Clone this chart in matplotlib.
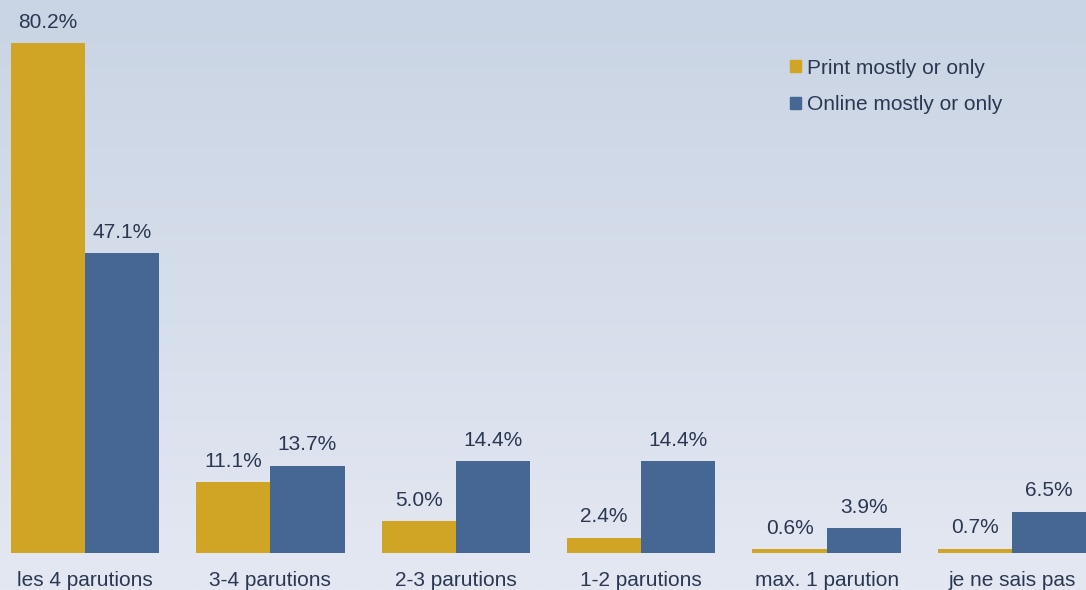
import numpy as np
import matplotlib.pyplot as plt
from matplotlib.patches import Patch
from matplotlib.colors import LinearSegmentedColormap

plt.rcParams['font.family'] = ['Liberation Sans', 'DejaVu Sans']

categories = ["les 4 parutions", "3-4 parutions", "2-3 parutions",
              "1-2 parutions", "max. 1 parution", "je ne sais pas"]
print_vals = [80.2, 11.1, 5.0, 2.4, 0.6, 0.7]
online_vals = [47.1, 13.7, 14.4, 14.4, 3.9, 6.5]
series_names = ["Print mostly or only", "Online mostly or only"]

c_print = '#d0a424'
c_online = '#466693'
txt = '#2b3852'

fig = plt.figure(figsize=(10.86, 5.90), dpi=100)

# fond en dégradé
bg = fig.add_axes([0, 0, 1, 1])
grad = np.linspace(0, 1, 256).reshape(-1, 1)
cmap = LinearSegmentedColormap.from_list('bg', ['#c9d4e4', '#e4e8f2'])
bg.imshow(grad, aspect='auto', cmap=cmap, extent=[0, 1, 0, 1])
bg.axis('off')

ax = fig.add_axes([0, 37 / 590, 1, 553 / 590])
ax.patch.set_alpha(0)
x = np.arange(len(categories))
w = 0.4
ax.bar(x - w / 2, print_vals, w, color=c_print)
ax.bar(x + w / 2, online_vals, w, color=c_online)

for i in range(len(categories)):
    ax.text(x[i] - w / 2, print_vals[i] + 1.8, f"{print_vals[i]:.1f}%",
            ha='center', va='bottom', fontsize=15, color=txt)
    ax.text(x[i] + w / 2, online_vals[i] + 1.8, f"{online_vals[i]:.1f}%",
            ha='center', va='bottom', fontsize=15, color=txt)

ax.set_xlim(-0.458, 5.399)
ax.set_ylim(0, 86.96)
ax.set_yticks([])
ax.set_xticks(x)
ax.set_xticklabels(categories, fontsize=15, color=txt)
ax.tick_params(axis='x', length=0, pad=13)
for s in ax.spines.values():
    s.set_visible(False)

handles = [Patch(color=c_print), Patch(color=c_online)]
ax.legend(handles, series_names, loc='upper left', bbox_to_anchor=(0.7105, 0.928),
          frameon=False, fontsize=15, labelcolor=txt, handlelength=0.5,
          handleheight=0.5, handletextpad=0.3, labelspacing=0.85)

fig.savefig('out.png', dpi=100)
